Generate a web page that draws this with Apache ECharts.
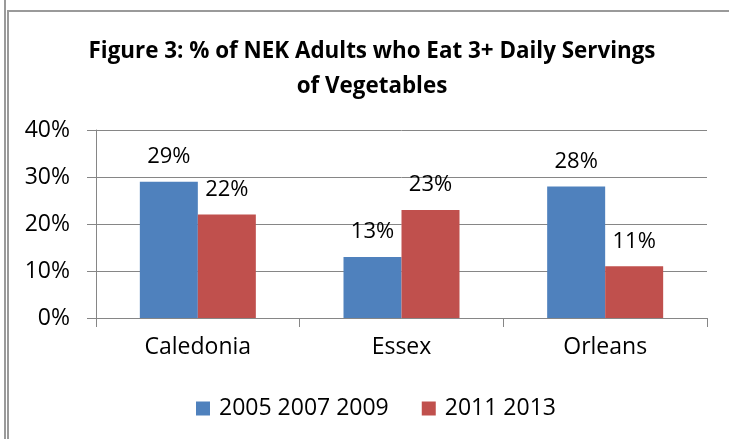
<!DOCTYPE html>
<html><head><meta charset="utf-8">
<script src="https://cdn.jsdelivr.net/npm/echarts@6/dist/echarts.min.js"></script>
<style>html,body{margin:0;padding:0;background:#fff;overflow:hidden}#c{width:729px;height:439px}</style>
</head><body><div id="c"></div>
<script>
const titleText = 'Figure 3: % of NEK Adults who Eat 3+ Daily Servings\nof Vegetables';
const categories = ['Caledonia', 'Essex', 'Orleans'];
const seriesNames = ['2005 2007 2009', '2011 2013'];
const values2005 = [29, 13, 28];
const values2011 = [22, 23, 11];
const yTicks = [0, 10, 20, 30, 40];

const FONT = '"Open Sans", sans-serif';
const chart = echarts.init(document.getElementById('c'), null, {renderer: 'canvas'});
chart.setOption({
  animation: false,
  backgroundColor: '#fff',
  title: {
    text: titleText, left: 367, textAlign: 'center', top: 29,
    textStyle: {fontFamily: FONT, fontWeight: 'bold', fontSize: 22.4, lineHeight: 35, color: '#000'}
  },
  graphic: [
    {type: 'line', shape: {x1: 5, y1: 0, x2: 5, y2: 439}, style: {stroke: '#9a9a9a', lineWidth: 2}},
    {type: 'line', shape: {x1: 8, y1: 11, x2: 729, y2: 11}, style: {stroke: '#9a9a9a', lineWidth: 2}},
    {type: 'line', shape: {x1: 8, y1: 10, x2: 8, y2: 439}, style: {stroke: '#9a9a9a', lineWidth: 2}}
  ],
  legend: {
    data: seriesNames, bottom: 14, left: 191, itemWidth: 14, itemHeight: 14, itemGap: 33,
    icon: 'rect',
    textStyle: {fontFamily: FONT, fontSize: 23, color: '#000', padding: [0, 0, 0, 4]}
  },
  grid: {left: 96, right: 22, top: 130, bottom: 121, containLabel: false},
  xAxis: {
    type: 'category', data: categories,
    axisLine: {lineStyle: {color: '#868686', width: 1}},
    axisTick: {show: true, length: 9, lineStyle: {color: '#868686'}},
    axisLabel: {fontFamily: FONT, fontSize: 23, color: '#000', margin: 18}
  },
  yAxis: {
    type: 'value', min: 0, max: 40, interval: 10,
    axisLine: {show: true, lineStyle: {color: '#868686'}},
    axisTick: {show: true, length: 9, lineStyle: {color: '#868686'}},
    splitLine: {lineStyle: {color: '#868686'}},
    axisLabel: {fontFamily: FONT, fontSize: 23, color: '#000', margin: 26,
      formatter: v => yTicks.includes(v) ? v + '%' : ''}
  },
  series: [
    {name: seriesNames[0], type: 'bar', data: values2005, barWidth: 58, barGap: '0%',
     itemStyle: {color: '#4F81BD'},
     label: {show: true, position: 'top', distance: 14, formatter: '{c}%', fontFamily: FONT, fontSize: 22, color: '#000'}},
    {name: seriesNames[1], type: 'bar', data: values2011, barWidth: 58,
     itemStyle: {color: '#C0504D'},
     label: {show: true, position: 'top', distance: 14, formatter: '{c}%', fontFamily: FONT, fontSize: 22, color: '#000'}}
  ]
});
</script></body></html>
